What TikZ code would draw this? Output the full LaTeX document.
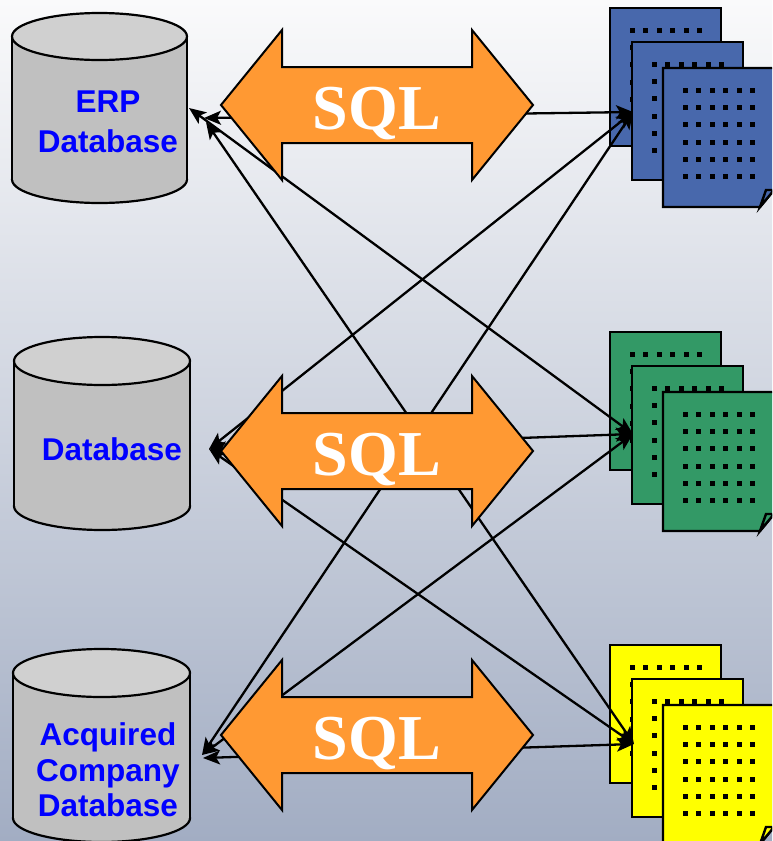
\documentclass[tikz,border=0pt]{standalone}
\usepackage{fontspec}
\setmainfont{Liberation Serif}
\setsansfont{Liberation Sans}
\usetikzlibrary{arrows.meta}
\definecolor{docblue}{RGB}{72,104,172}
\definecolor{docgreen}{RGB}{51,153,102}
\definecolor{docyellow}{RGB}{255,255,0}
\definecolor{sqlorange}{RGB}{255,153,51}
\definecolor{cylbody}{RGB}{192,192,192}
\definecolor{cyltop}{RGB}{208,208,208}
\definecolor{labelblue}{RGB}{0,0,255}
\definecolor{bgtop}{RGB}{250,250,251}
\definecolor{bgmid}{RGB}{220,223,230}
\definecolor{bgbot}{RGB}{162,173,195}
\tikzset{
  cylline/.style={draw=black, line width=2.2pt},
  docline/.style={draw=black, line width=2.4pt},
  sqlshape/.style={draw=black, line width=2pt, fill=sqlorange, line join=miter},
  sqltext/.style={anchor=base, inner sep=0pt, text=white, font=\fontsize{64}{64}\selectfont\bfseries},
  dblabel/.style={align=center, inner sep=0pt, text=labelblue, font=\fontsize{31.5}{40}\selectfont\sffamily\bfseries},
  conn/.style={line width=2.3pt, arrows={Stealth[length=17pt,width=14pt,inset=4pt]-Stealth[length=17pt,width=14pt,inset=4pt]}}
}
\newcommand\cyl[5]{% cx, rx, top cy, bottom cy, ry
  \filldraw[cylline, fill=cylbody] (#1,#4) ellipse [x radius=#2pt, y radius=#5pt];
  \fill[cylbody] ({#1-#2},#3) rectangle ({#1+#2},#4);
  \draw[cylline] ({#1-#2},#3) -- ({#1-#2},#4) ({#1+#2},#3) -- ({#1+#2},#4);
  \filldraw[cylline, fill=cyltop] (#1,#3) ellipse [x radius=#2pt, y radius=#5pt];
}
\newcommand\docdots[2]{%
  \foreach \i in {0,...,5}{\foreach \j in {0,...,5}{%
    \fill ({#1+20+13.4*\i},{#2+20+17.2*\j}) rectangle ++(5,5);}}%
}
\newcommand\docpage[3]{% L, T, colour
  \filldraw[docline, fill=#3] (#1,#2) rectangle ++(111,138);
  \docdots{#1}{#2}
}
\newcommand\docfront[3]{% L, T, colour
  \filldraw[docline, fill=#3, line join=miter] (#1,#2) -- ++(111,0) -- ({#1+111},{#2+122}) -- ({#1+97},{#2+139}) -- (#1,{#2+139}) -- cycle;
  \docdots{#1}{#2}
  \filldraw[docline, fill=#3, line join=miter] ({#1+97},{#2+139}) -- ({#1+103},{#2+122}) -- ({#1+111},{#2+122}) -- cycle;
}
\newcommand\docstack[2]{% y offset, colour
  \begin{scope}[shift={(0,#1)}]
    \docpage{610}{8}{#2}
    \docpage{632}{42}{#2}
    \docfront{663}{68}{#2}
  \end{scope}
}
\newcommand\sqlarrow[2]{% name, centre y
  \begin{scope}[shift={(0,#2)}]
    \filldraw[sqlshape] (221,0) -- (282,-75) -- (282,-38) -- (472,-38) -- (472,-75) -- (533,0)
      -- (472,75) -- (472,38) -- (282,38) -- (282,75) -- cycle;
    \node[sqltext] (#1) at (377,24) {SQL};
  \end{scope}
}
\begin{document}
\begin{tikzpicture}[x=1pt, y=-1pt]
  \useasboundingbox (0,0) rectangle (772,841);
  \clip (0,0) rectangle (772,841);
  \shade[top color=bgtop, middle color=bgmid, bottom color=bgbot] (0,0) rectangle (772,841);

  % document stacks
  \docstack{0}{docblue}
  \docstack{324}{docgreen}
  \docstack{637}{docyellow}

  % connector end points
  \coordinate (blueTip) at (633,112);
  \coordinate (greenTip) at (633,434);
  \coordinate (yellowTip) at (634,744);
  \coordinate (erpA) at (204,118);
  \coordinate (erpB) at (189,108);
  \coordinate (erpC) at (206,122);
  \coordinate (dbA) at (209,449);
  \coordinate (acqA) at (203,758);
  \coordinate (acqB) at (202,755);

  \draw[conn] (erpA) -- (blueTip);
  \draw[conn] (erpB) -- (greenTip);
  \draw[conn] (erpC) -- (yellowTip);
  \draw[conn] (dbA) -- (blueTip);
  \draw[conn] (dbA) -- (greenTip);
  \draw[conn] (dbA) -- (yellowTip);
  \draw[conn] (acqB) -- (blueTip);
  \draw[conn] (acqB) -- (greenTip);
  \draw[conn] (acqA) -- (yellowTip);

  % SQL arrows
  \sqlarrow{sqlTop}{105}
  \sqlarrow{sqlMid}{451}
  \sqlarrow{sqlBot}{735}

  % databases
  \cyl{99.5}{87.5}{36.5}{179.5}{23.5}
  \node[dblabel] (erp) at (108,122) {ERP\\Database};
  \cyl{102}{88}{361}{506}{24}
  \node[dblabel] (db) at (112,449) {Database};
  \cyl{101.5}{88.5}{673}{818}{24}
  \node[dblabel, font=\fontsize{31.5}{35.5}\selectfont\sffamily\bfseries] (acq) at (108,770) {Acquired\\Company\\Database};
\end{tikzpicture}
\end{document}
